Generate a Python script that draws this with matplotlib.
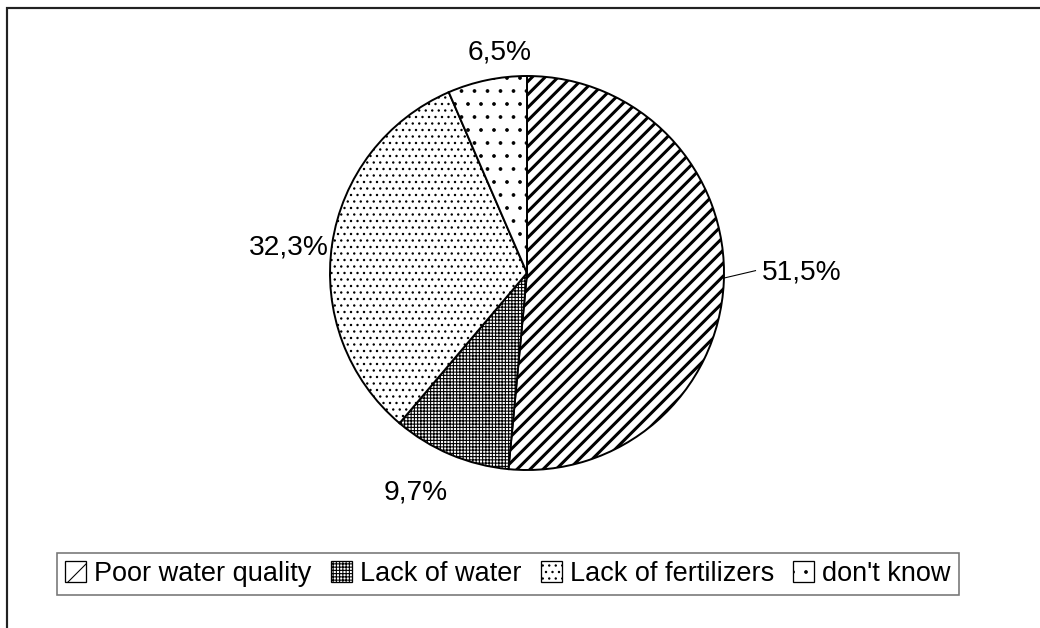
import matplotlib
matplotlib.use("Agg")
import matplotlib.pyplot as plt
from matplotlib.patches import Rectangle, Patch
import numpy as np

categories = ["Poor water quality", "Lack of water", "Lack of fertilizers", "don't know"]
values = [51.5, 9.7, 32.3, 6.5]
labels = ["51,5%", "9,7%", "32,3%", "6,5%"]

hatches = ["", "++++", "..", "."]
legend_hatches = ["/", "++++", "..", "."]
label_dist = [1.395, 1.25, 1.215, 1.13]
label_shift = [2.9, -4, 2.3, -4.7]  # degrees
stripe_step = 0.066   # spacing of the heavy diagonal stripes (axes units)
stripe_lw = 2.8

plt.rcParams['font.family'] = ['Liberation Sans', 'DejaVu Sans']
plt.rcParams['hatch.linewidth'] = 1.0

DPI = 78
W, H = 1040, 628
fig = plt.figure(figsize=(W / DPI, H / DPI), dpi=DPI)
fig.patch.set_facecolor("white")

# outer frame (cropped at right and bottom)
fig.patches.append(Rectangle((7 / W, -0.1), 1.2, (H - 8) / H + 0.1, transform=fig.transFigure,
                             fill=False, edgecolor="#222222", linewidth=2.0))

cx, cy, r = 527, 273, 197
ax = fig.add_axes([(cx - r) / W, (H - cy - r) / H, 2 * r / W, 2 * r / H])

wedges, _ = ax.pie(values, startangle=90, counterclock=False, radius=1,
                   colors=["white"] * 4,
                   wedgeprops=dict(edgecolor="black", linewidth=1.8, zorder=2))
for w, h in zip(wedges, hatches):
    w.set_hatch(h)
wedges[0].set_facecolor("none")

# heavy diagonal stripe pattern for the first slice, clipped to the wedge
for c in np.arange(-2.2, 2.2, stripe_step):
    ln, = ax.plot([-1.2, 1.2], [-1.2 + c, 1.2 + c], color="black",
                  linewidth=stripe_lw, solid_capstyle="butt", zorder=1.5)
    ln.set_clip_path(wedges[0])

ax.set_xlim(-1, 1)
ax.set_ylim(-1, 1)
ax.set_aspect("auto")
ax.axis("off")

for i, (w, lab) in enumerate(zip(wedges, labels)):
    mid = np.deg2rad((w.theta1 + w.theta2) / 2 + label_shift[i])
    d = label_dist[i]
    x, y = d * np.cos(mid), d * np.sin(mid)
    ax.text(x, y, lab, ha="center", va="center", fontsize=26, clip_on=False)
    if i == 0:
        m = np.deg2rad((w.theta1 + w.theta2) / 2)
        ax.plot([np.cos(m), 1.16], [np.sin(m) * 0.55, 0.012], color="black",
                linewidth=1.0, clip_on=False)

handles = [Patch(facecolor="white", edgecolor="black", hatch=h, linewidth=1.2)
           for h in legend_hatches]
leg = fig.legend(handles, categories, loc="center", bbox_to_anchor=(508 / W, 1 - 574 / H),
                 ncol=4, fontsize=25, frameon=True, fancybox=False, shadow=False,
                 handlelength=0.78, handleheight=0.78, handletextpad=0.3,
                 columnspacing=0.7, borderpad=0.3, borderaxespad=0)
leg.get_frame().set_edgecolor("#555555")
leg.get_frame().set_linewidth(1.5)

fig.savefig("out.png", dpi=DPI, facecolor="white")
